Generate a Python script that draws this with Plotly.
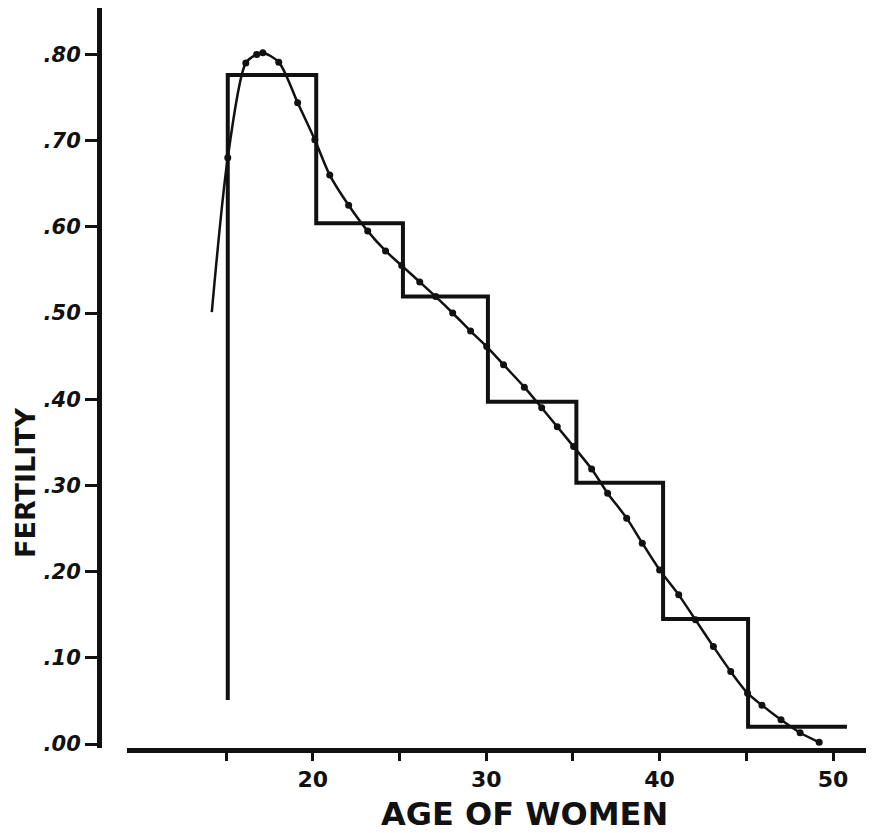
import plotly.graph_objects as go

# ---- data ----
# step function (rates by age group): group edges and rates
step_edges = [15.1, 20.2, 25.2, 30.1, 35.2, 40.2, 45.1, 50.8]
step_rates = [0.776, 0.604, 0.519, 0.397, 0.303, 0.145, 0.020]
step_start_value = 0.051

# smoothed single-year curve (first point is the curve start, without a dot)
curve_age = [14.18, 15.1, 16.14, 16.77, 17.12, 18.04, 19.13, 20.12, 20.98, 22.07,
             23.17, 24.2, 25.13, 26.17, 27.09, 28.07, 29.1, 30.03, 31.0, 32.2,
             33.2, 34.1, 35.04, 36.08, 37.0, 38.1, 39.0, 40.0, 41.1, 42.07,
             43.1, 44.1, 45.07, 45.9, 47.0, 48.1, 49.2]
curve_fert = [0.501, 0.680, 0.790, 0.800, 0.802, 0.791, 0.744, 0.701, 0.660, 0.625,
              0.595, 0.572, 0.555, 0.536, 0.519, 0.500, 0.479, 0.461, 0.440, 0.414,
              0.390, 0.368, 0.345, 0.319, 0.291, 0.262, 0.233, 0.202, 0.173, 0.144,
              0.113, 0.084, 0.059, 0.045, 0.028, 0.013, 0.002]

x_tickvals = [15, 20, 25, 30, 35, 40, 45, 50]
x_ticktext = ["", "20", "", "30", "", "40", "", "50"]
y_tickvals = [0.0, 0.1, 0.2, 0.3, 0.4, 0.5, 0.6, 0.7, 0.8]
y_ticktext = [".00", ".10", ".20", ".30", ".40", ".50", ".60", ".70", ".80"]

x_title = "AGE OF WOMEN"
y_title = "FERTILITY"

# ---- figure (page body has an 8px margin, so coordinates are shifted by 8) ----
OFF = 8
W, H = 874 - OFF, 833 - OFF
ML = 99 - OFF
MT = 0
plot_bottom = 748 - OFF
plot_right = 870 - OFF
MB = H - plot_bottom
MR = W - plot_right
plot_w = W - ML - MR
plot_h = H - MT - MB

step_x = [step_edges[0]] + step_edges
step_y = [step_start_value] + step_rates + [step_rates[-1]]

ink = "#111111"
font_family = "DejaVu Sans, Arial, sans-serif"

fig = go.Figure()
fig.add_trace(go.Scatter(x=step_x, y=step_y, mode="lines", line_shape="hv",
                         line=dict(color=ink, width=4), hoverinfo="skip",
                         showlegend=False))
fig.add_trace(go.Scatter(x=curve_age, y=curve_fert, mode="lines", line_shape="spline",
                         line=dict(color=ink, width=2.5, smoothing=0.8),
                         hoverinfo="skip", showlegend=False))
fig.add_trace(go.Scatter(x=curve_age[1:], y=curve_fert[1:], mode="markers",
                         marker=dict(color=ink, size=7), showlegend=False))


def px_x(ref_x):
    return (ref_x - OFF - ML) / plot_w


def px_y(ref_y):
    return (MT + plot_h - (ref_y - OFF)) / plot_h


fig.update_layout(
    width=W, height=H,
    margin=dict(l=ML, r=MR, t=MT, b=MB, pad=0),
    paper_bgcolor="white", plot_bgcolor="white",
    font=dict(family=font_family, color=ink),
    xaxis=dict(
        domain=[px_x(127), 1],
        range=[9.29, 52.13],
        showgrid=False, zeroline=False,
        showline=True, linewidth=5, linecolor=ink,
        ticks="outside", ticklen=8, tickwidth=3, tickcolor=ink,
        tickvals=x_tickvals, ticktext=x_ticktext,
        tickfont=dict(size=22, family=font_family, weight="bold", color=ink),
    ),
    yaxis=dict(
        anchor="free", position=0,
        range=[(744 - 748) / 862, (744 - OFF) / 862],
        showgrid=False, zeroline=False,
        showline=True, linewidth=5, linecolor=ink,
        ticks="outside", ticklen=12, tickwidth=3, tickcolor=ink,
        tickvals=y_tickvals, ticktext=y_ticktext,
        tickfont=dict(size=21, family=font_family, weight="bold", style="italic", color=ink),
    ),
    annotations=[
        dict(text=x_title, xref="paper", yref="paper",
             x=px_x(524), y=px_y(814),
             xanchor="center", yanchor="middle", showarrow=False,
             font=dict(size=32, family=font_family, weight="bold", color=ink)),
        dict(text=y_title, xref="paper", yref="paper",
             x=px_x(25), y=px_y(483),
             xanchor="center", yanchor="middle", showarrow=False, textangle=-90,
             font=dict(size=27, family=font_family, weight="bold", color=ink)),
    ],
)

fig.write_html("out.html")
